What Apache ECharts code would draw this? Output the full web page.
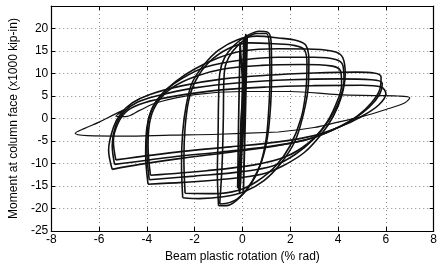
<!DOCTYPE html>
<html>
<head>
<meta charset="utf-8">
<script src="https://cdn.jsdelivr.net/npm/echarts@6/dist/echarts.min.js"></script>
<style>
  html, body { margin: 0; padding: 0; background: #fff; }
  #chart { width: 440px; height: 269px; }
</style>
</head>
<body>
<div id="chart"></div>
<script>
// tick labels
var xTicks = [-8, -6, -4, -2, 0, 2, 4, 6, 8];
var yTicks = [-25, -20, -15, -10, -5, 0, 5, 10, 15, 20];

// elastic cycles near zero plastic rotation
var elastic = [[0, 0], [0.08, 12], [0, 0], [-0.08, -12], [0, 0], [0.1, 15], [0.02, 0], [-0.08, -14.5],
  [0.02, 0], [0.12, 17.5], [0.04, 0], [-0.1, -16], [0, 0], [0.14, 18.8], [0.05, 0], [-0.12, -16.8], [-0.02, 0],
  [0.06, 18], [-0.04, 0], [-0.15, -16.2], [-0.06, 0], [0.2, 18.5], [0.12, 0], [0.04, -16.5], [0.1, 0],
  [-0.1, 17], [-0.16, 0], [-0.2, -15.5]];

// +-1 % cycles
var loopA1 = [[-1.0, -19.4], [-1.05, -12], [-1.02, -4], [-1.0, 4], [-0.95, 10], [-0.75, 13.5], [-0.3, 16.5],
  [0.2, 18.4], [0.7, 19.4], [1.05, 19.2], [1.2, 17], [1.22, 10], [1.18, 3], [1.05, -4], [0.8, -9.5],
  [0.4, -14], [-0.1, -17.5], [-0.6, -19.3], [-1.0, -19.4]];
var loopA2 = [[-0.95, -19], [-0.85, -10], [-0.8, 0], [-0.78, 8], [-0.7, 12], [-0.4, 15], [0.1, 17.6],
  [0.6, 18.9], [1.0, 18.9], [1.12, 16.5], [1.15, 9], [1.1, 2], [0.98, -5], [0.7, -11], [0.3, -15],
  [-0.2, -17.8], [-0.7, -18.9], [-0.95, -19]];

// +-2.5 % cycles
var loopB1 = [[-2.5, -17.6], [-2.55, -10], [-2.5, -3], [-2.35, 3], [-2.1, 8], [-1.6, 12], [-1.0, 15.2],
  [-0.2, 17.5], [0.6, 18.3], [1.5, 17.9], [2.3, 17.3], [2.65, 16.3], [2.78, 13], [2.75, 7], [2.55, 1],
  [2.2, -5], [1.6, -10], [0.9, -13.8], [0.1, -16.2], [-0.8, -17.4], [-1.8, -17.8], [-2.5, -17.6]];
var loopB2 = [[-2.4, -16.6], [-2.45, -9], [-2.4, -2], [-2.25, 4], [-1.95, 8.5], [-1.4, 12.5], [-0.6, 15.5],
  [0.3, 16.8], [1.3, 16.6], [2.2, 16.2], [2.6, 15.2], [2.7, 12], [2.65, 6], [2.45, 0], [2.0, -6],
  [1.4, -10.5], [0.6, -14], [-0.2, -16], [-1.2, -16.7], [-2.4, -16.6]];

// +-4 % cycles
var loopC1 = [[-3.95, -14.6], [-4.05, -8], [-4.0, -2], [-3.8, 2], [-3.4, 5.2], [-2.8, 8.2], [-2.0, 11],
  [-1.0, 13.5], [0, 15], [1.5, 15.5], [3.0, 15.4], [3.9, 14.8], [4.2, 13.5], [4.3, 10], [4.15, 5],
  [3.8, 0.5], [3.3, -3.5], [2.6, -7.5], [1.7, -10.5], [0.8, -12.4], [-0.8, -13.5], [-2.5, -14.2], [-3.95, -14.6]];
var loopC2 = [[-3.9, -13.6], [-4.0, -7], [-3.95, -1], [-3.7, 3], [-3.2, 6.3], [-2.5, 9], [-1.5, 11.5],
  [0, 13], [1.5, 13.6], [3.0, 13.6], [3.9, 13.1], [4.2, 11.8], [4.25, 8.5], [4.05, 4], [3.6, -0.5],
  [3.0, -4.5], [2.2, -8], [1.3, -10.5], [0, -11.8], [-2, -12.8], [-3.9, -13.6]];
var loopC3 = [[-3.85, -12.6], [-3.95, -6], [-3.85, 0], [-3.5, 4], [-2.9, 7], [-2.0, 9.3], [-0.8, 11],
  [0.8, 11.8], [2.5, 12], [3.7, 11.7], [4.1, 10.6], [4.15, 7.5], [3.9, 3], [3.45, -1.5], [2.75, -5.5],
  [1.8, -8.5], [0.5, -10.3], [-1.5, -11.6], [-3.85, -12.6]];

// +-5.5 % cycles
var loopD1 = [[-5.45, -11.3], [-5.6, -7], [-5.4, -2], [-5.1, 1], [-4.6, 3.5], [-3.9, 5.3], [-2.5, 7.3],
  [-0.8, 8.8], [1, 9.6], [3, 10.1], [4.8, 10.3], [5.5, 10.1], [5.8, 9.2], [5.75, 6.5], [5.4, 3.5],
  [4.8, 0.5], [4.0, -2], [3.0, -4.2], [1.5, -6], [-0.5, -7.5], [-2.5, -8.8], [-4.3, -10.2], [-5.45, -11.3]];
var loopD2 = [[-5.35, -10.2], [-5.45, -6], [-5.3, -1.5], [-4.95, 1.5], [-4.4, 3.6], [-3.6, 5], [-2, 6.8],
  [0, 8.0], [2, 8.6], [4, 8.8], [5.4, 8.6], [5.85, 7.8], [5.75, 5.5], [5.3, 2.5], [4.6, -0.3], [3.7, -2.7],
  [2.6, -4.8], [1, -6.3], [-1, -7.5], [-3, -8.6], [-5.35, -10.2]];
var loopD3 = [[-5.3, -9.2], [-5.4, -5], [-5.2, -1], [-4.8, 1.8], [-4.1, 3.5], [-3, 4.8], [-1, 6.3],
  [1, 7.0], [3, 7.3], [5, 7.4], [5.8, 7], [6.0, 5.5], [5.7, 3], [5.0, 0.5], [4.1, -1.8], [3, -3.8],
  [1.5, -5.2], [-0.5, -6.3], [-2.5, -7.3], [-5.3, -9.2]];

// final cycle with the long tails
var loopT = [[1.5, -3], [-1, -3.5], [-3, -3.7], [-5, -3.9], [-6.5, -3.8], [-7, -3.3], [-6.6, -2.2],
  [-6, -0.8], [-5.4, 0.8], [-4.9, 2.1], [-5.3, 0.5], [-4.9, 0.4], [-4.3, 1.8], [-3.6, 3.5], [-2, 5.3],
  [0, 6], [2, 6], [4, 5.3], [5.5, 5.1], [6.5, 5], [7, 4.6], [6.8, 3.5], [6, 2], [5, 0.4], [4, -0.8],
  [3, -2], [1.5, -3]];

var loops = [loopA1, loopA2, loopB1, loopB2, loopC1, loopC2, loopC3, loopD1, loopD2, loopD3, loopT];

var myChart = echarts.init(document.getElementById('chart'));

var series = [{
  type: 'line',
  data: elastic,
  showSymbol: false,
  smooth: false,
  lineStyle: { color: '#111', width: 1.7 },
  animation: false
}];
loops.forEach(function (d, i) {
  series.push({
    type: 'line',
    data: d,
    showSymbol: false,
    smooth: 0.35,
    lineStyle: { color: '#111', width: i === loops.length - 1 ? 1.2 : 1.6 },
    animation: false
  });
});

var font = 'Liberation Sans, Arial, sans-serif';
// frame lines must stay on the plot edges, not cross at zero
var frameLine = { show: true, onZero: false, lineStyle: { color: '#000', width: 1.2 } };
var innerTick = { show: true, inside: true, length: 4, lineStyle: { color: '#000' } };
var dotted = { show: true, lineStyle: { color: '#888', type: [1, 3] } };

var option = {
  animation: false,
  grid: { left: 46, right: 3, top: 6, bottom: 38 },
  xAxis: [
    {
      type: 'value', min: xTicks[0], max: xTicks[xTicks.length - 1], interval: 2,
      name: 'Beam plastic rotation (% rad)', nameLocation: 'middle', nameGap: 17,
      nameTextStyle: { color: '#000', fontSize: 12, fontFamily: font },
      axisLine: frameLine,
      axisTick: innerTick,
      axisLabel: { color: '#000', fontSize: 12, fontFamily: font, margin: 3 },
      splitLine: dotted
    },
    {
      type: 'value', position: 'top', min: xTicks[0], max: xTicks[xTicks.length - 1], interval: 2,
      axisLine: frameLine,
      axisTick: innerTick,
      axisLabel: { show: false },
      splitLine: { show: false }
    }
  ],
  yAxis: [
    {
      type: 'value', min: yTicks[0], max: 25, interval: 5,
      name: 'Moment at column face (x1000 kip-in)', nameLocation: 'middle', nameGap: 25,
      nameTextStyle: { color: '#000', fontSize: 12, fontFamily: font },
      axisLine: frameLine,
      axisTick: innerTick,
      axisLabel: {
        color: '#000', fontSize: 12, fontFamily: font, margin: 3,
        formatter: function (v) { return yTicks.indexOf(v) >= 0 ? String(v) : ''; }
      },
      splitLine: dotted
    },
    {
      type: 'value', position: 'right', min: yTicks[0], max: 25, interval: 5,
      axisLine: frameLine,
      axisTick: innerTick,
      axisLabel: { show: false },
      splitLine: { show: false }
    }
  ],
  series: series
};
myChart.setOption(option);
</script>
</body>
</html>
